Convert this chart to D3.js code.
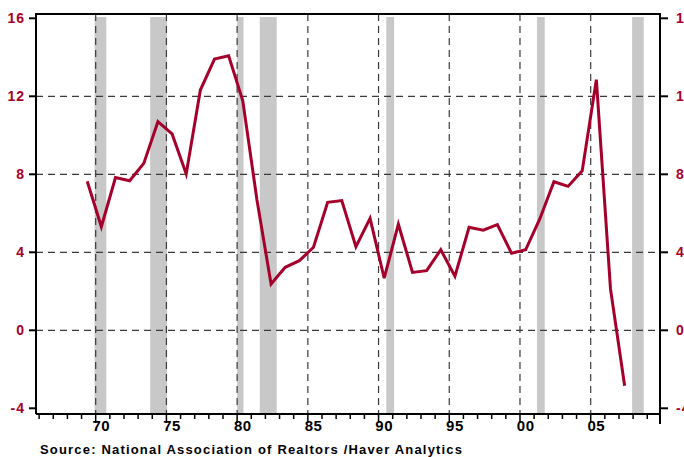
<!DOCTYPE html>
<html lang="en">
<head>
<meta charset="UTF-8">
<title>Existing home prices</title>
<script src="https://cdnjs.cloudflare.com/ajax/libs/d3/7.8.5/d3.min.js"></script>
<style>
    body { margin: 0; background: #fff; }
    svg { display: block; }
    text { font-family: "Liberation Sans", Arial, sans-serif; font-weight: bold; }
    .grid { stroke: #3a3a3a; stroke-width: 1.2px; stroke-dasharray: 7,5; fill: none; }
</style>
</head>
<body>
<div id="chart"></div>
<script>
    // annual % change, one value per year
    const years = [1969, 1970, 1971, 1972, 1973, 1974, 1975, 1976, 1977, 1978, 1979,
                   1980, 1981, 1982, 1983, 1984, 1985, 1986, 1987, 1988, 1989,
                   1990, 1991, 1992, 1993, 1994, 1995, 1996, 1997, 1998, 1999,
                   2000, 2001, 2002, 2003, 2004, 2005, 2006, 2007];
    const values = [7.64, 5.31, 7.83, 7.67, 8.56, 10.7, 10.07, 8.02, 12.32, 13.91, 14.08,
                    11.77, 6.7, 2.37, 3.23, 3.57, 4.26, 6.56, 6.65, 4.29, 5.74,
                    2.67, 5.44, 2.97, 3.06, 4.13, 2.77, 5.28, 5.13, 5.42, 3.95,
                    4.13, 5.71, 7.62, 7.38, 8.18, 12.85, 2.12, -2.84];

    // recessions (start, end) in decimal years
    const recessions = [[1969.92, 1970.75], [1973.85, 1975.05], [1980.0, 1980.45],
                        [1981.6, 1982.8], [1990.55, 1991.1], [2001.2, 2001.75], [2007.93, 2008.75]];

    const yTicks = [-4, 0, 4, 8, 12, 16];
    const yGrid = [0, 4, 8, 12];
    const xMajor = [1970, 1975, 1980, 1985, 1990, 1995, 2000, 2005];
    const xLabels = ["70", "75", "80", "85", "90", "95", "00", "05"];
    const source = "Source:  National Association of Realtors /Haver Analytics";

    const red = "#a5002b";
    const W = 684, H = 457;
    const pL = 36, pR = 660, pT = 14, pB = 414;

    const x = d3.scaleLinear().domain([1970, 2005]).range([95.7, 590.7]);
    const y = d3.scaleLinear().domain([-4, 16]).range([408.3, 18.3]);

    const svg = d3.select("#chart").append("svg")
        .attr("width", W).attr("height", H);

    // recession shading
    svg.append("g").selectAll("rect")
        .data(recessions)
        .enter().append("rect")
        .attr("x", d => x(d[0]))
        .attr("width", d => x(d[1]) - x(d[0]))
        .attr("y", 17)
        .attr("height", pB - 17)
        .attr("fill", "#c8c8c8");

    // dashed grid
    svg.append("g").selectAll("line")
        .data(yGrid)
        .enter().append("line")
        .attr("class", "grid")
        .attr("x1", pL).attr("x2", pR)
        .attr("y1", d => y(d)).attr("y2", d => y(d));

    svg.append("g").selectAll("line")
        .data(xMajor)
        .enter().append("line")
        .attr("class", "grid")
        .attr("x1", d => x(d)).attr("x2", d => x(d))
        .attr("y1", pT).attr("y2", pB);

    // frame
    svg.append("path")
        .attr("d", `M${pL},${pB} V${pT} H${pR} V${pB} H${pL}`)
        .attr("fill", "none")
        .attr("stroke", "#000")
        .attr("stroke-width", 2);

    // left and right ticks + labels
    const yt = svg.append("g");
    yt.selectAll(".lt").data(yTicks).enter().append("line")
        .attr("x1", pL - 7).attr("x2", pL)
        .attr("y1", d => y(d)).attr("y2", d => y(d))
        .attr("stroke", "#000").attr("stroke-width", 2);
    yt.selectAll(".rt").data(yTicks).enter().append("line")
        .attr("x1", pR).attr("x2", pR + 8)
        .attr("y1", d => y(d)).attr("y2", d => y(d))
        .attr("stroke", "#000").attr("stroke-width", 2);
    yt.selectAll(".ll").data(yTicks).enter().append("text")
        .attr("x", 25).attr("y", d => y(d) + 5)
        .attr("text-anchor", "end")
        .attr("font-size", 14)
        .attr("letter-spacing", 1)
        .attr("fill", red)
        .text(d => d);
    yt.selectAll(".rl").data(yTicks).enter().append("text")
        .attr("x", 676).attr("y", d => y(d) + 5)
        .attr("font-size", 14)
        .attr("letter-spacing", 1)
        .attr("fill", red)
        .text(d => d);

    // bottom ticks: every year, longer at 5-year marks
    const minor = d3.range(1966, 2010);
    svg.append("g").selectAll("line")
        .data(minor)
        .enter().append("line")
        .attr("x1", d => x(d)).attr("x2", d => x(d))
        .attr("y1", pB)
        .attr("y2", d => d % 5 === 0 ? pB + 9 : pB + 5)
        .attr("stroke", "#000").attr("stroke-width", 1.5);
    svg.append("line")
        .attr("x1", pR).attr("x2", pR)
        .attr("y1", pB).attr("y2", pB + 10)
        .attr("stroke", "#000").attr("stroke-width", 2);

    svg.append("g").selectAll("text")
        .data(xMajor)
        .enter().append("text")
        .attr("x", d => x(d + 0.4))
        .attr("y", 431)
        .attr("text-anchor", "middle")
        .attr("font-size", 15)
        .attr("letter-spacing", 0.5)
        .attr("fill", "#000")
        .text((d, i) => xLabels[i]);

    // series
    const line = d3.line()
        .x((d, i) => x(years[i] + 0.4))
        .y(d => y(d));

    svg.append("path")
        .datum(values)
        .attr("d", line)
        .attr("fill", "none")
        .attr("stroke", red)
        .attr("stroke-width", 3)
        .attr("stroke-linejoin", "miter");

    svg.append("text")
        .attr("x", 40).attr("y", 454)
        .attr("font-size", 13)
        .attr("textLength", 422)
        .attr("lengthAdjust", "spacing")
        .attr("fill", "#000")
        .text(source);
</script>
</body>
</html>
